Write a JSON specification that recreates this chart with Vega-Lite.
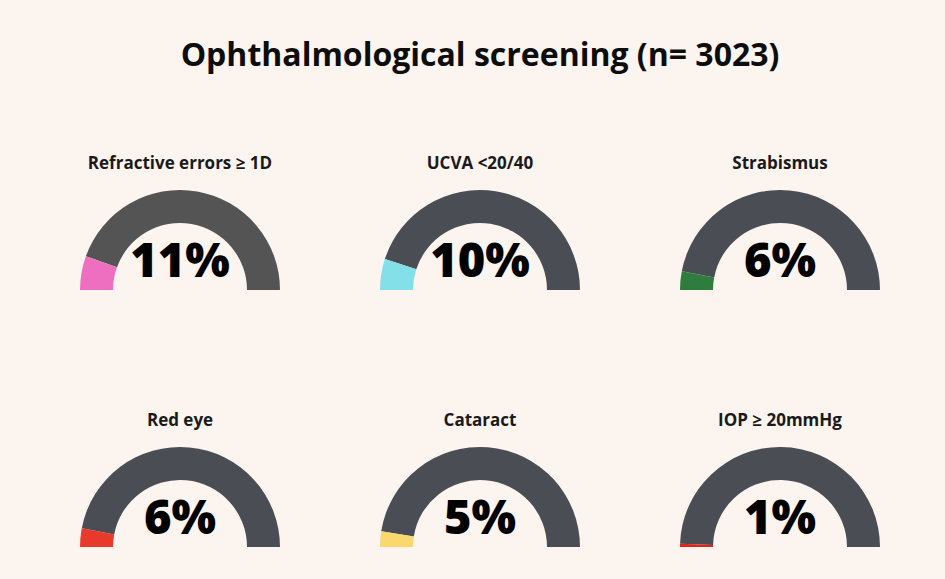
{
  "$schema": "https://vega.github.io/schema/vega-lite/v6.json",
  "background": "#fbf4ef",
  "padding": {"left": 40, "right": 25, "top": 40, "bottom": 33},
  "title": {"text": "Ophthalmological screening (n= 3023)", "fontSize": 32, "font": "Open Sans", "fontWeight": "bold", "color": "#0d0d0d", "anchor": "middle", "offset": 82},
  "data": {"values": [
    {"label": "Refractive errors ≥ 1D", "value": 0.11},
    {"label": "UCVA <20/40", "value": 0.10},
    {"label": "Strabismus", "value": 0.06},
    {"label": "Red eye", "value": 0.06},
    {"label": "Cataract", "value": 0.05},
    {"label": "IOP ≥ 20mmHg", "value": 0.01}
  ]},
  "facet": {
    "field": "label", "type": "nominal",
    "sort": ["Refractive errors ≥ 1D", "UCVA <20/40", "Strabismus", "Red eye", "Cataract", "IOP ≥ 20mmHg"],
    "header": {"title": null, "labelFontSize": 17, "labelFont": "Open Sans", "labelFontWeight": "bold", "labelColor": "#1a1a1a", "labelPadding": 7}
  },
  "columns": 3,
  "spacing": {"column": 20, "row": 121},
  "spec": {
    "width": 280,
    "height": 110,
    "layer": [
      {
        "mark": {"type": "arc", "radius": 100, "radius2": 67},
        "encoding": {
          "theta": {"field": "value", "type": "quantitative", "stack": null, "scale": {"domain": [0, 1], "range": [-1.5708, 1.5708]}},
          "theta2": {"value": 1.5708},
          "y": {"value": "height"},
          "color": {"condition": {"test": "datum.label === 'Refractive errors ≥ 1D'", "value": "#545454"}, "value": "#4a4e54"}
        }
      },
      {
        "mark": {"type": "arc", "radius": 100, "radius2": 67},
        "encoding": {
          "theta": {"field": "value", "type": "quantitative", "stack": null, "scale": {"domain": [0, 1], "range": [-1.5708, 1.5708]}},
          "theta2": {"value": -1.5708},
          "y": {"value": "height"},
          "color": {"field": "label", "type": "nominal", "legend": null,
            "scale": {"domain": ["Refractive errors ≥ 1D", "UCVA <20/40", "Strabismus", "Red eye", "Cataract", "IOP ≥ 20mmHg"],
                      "range": ["#ee6fc0", "#84e0e8", "#2e7d3e", "#e8392a", "#fad86e", "#e3221a"]}}
        }
      },
      {
        "mark": {"type": "text", "fontSize": 47, "font": "Open Sans", "fontWeight": 800, "baseline": "alphabetic", "dy": -13, "color": "#000000"},
        "encoding": {
          "text": {"field": "value", "type": "quantitative", "format": ".0%"},
          "y": {"value": "height"}
        }
      }
    ]
  },
  "config": {"view": {"stroke": null}}
}
